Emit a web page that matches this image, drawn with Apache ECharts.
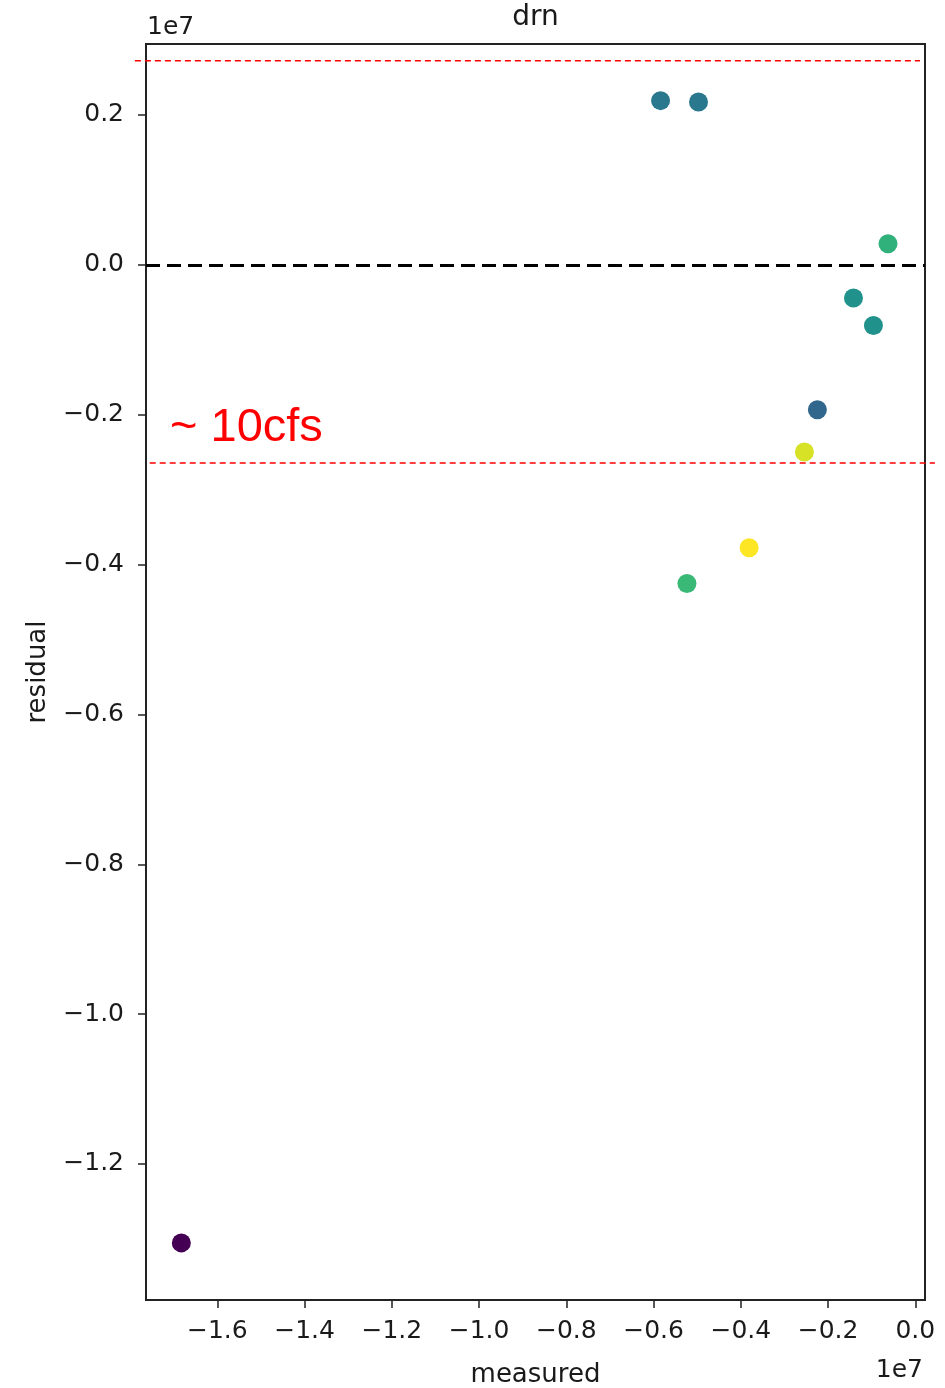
<!DOCTYPE html>
<html>
<head>
<meta charset="utf-8">
<title>drn</title>
<script src="https://cdn.jsdelivr.net/npm/echarts@6/dist/echarts.min.js"></script>
<style>
  html, body { margin: 0; padding: 0; background: #ffffff; }
  #chart { width: 945px; height: 1388px; }
</style>
</head>
<body>
<div id="chart"></div>
<script>
// Drain (drn) residuals against measured flux, in units of 1e7.
const measured = [-0.584e7, -0.497e7, -0.0626e7, -0.1418e7, -0.0960e7, -0.2245e7, -0.2542e7, -0.3809e7, -0.5235e7, -1.6825e7];
const residual = [0.2191e7, 0.2173e7, 0.0280e7, -0.0444e7, -0.0809e7, -0.1933e7, -0.2497e7, -0.3777e7, -0.4253e7, -1.3053e7];
// Colour value of each point on the viridis scale (0..1)
const colorValue = [0.40, 0.40, 0.64, 0.50, 0.50, 0.33, 0.94, 1.00, 0.67, 0.00];

// Tick positions and their labels (multiples of 1e7)
const xTickValues = [-1.6, -1.4, -1.2, -1.0, -0.8, -0.6, -0.4, -0.2, 0.0];
const yTickValues = [-1.2, -1.0, -0.8, -0.6, -0.4, -0.2, 0.0, 0.2];
// Reference band of roughly ±10 cfs
const bandLevels = [0.2724e7, -0.2644e7];
const bandLabel = '~ 10cfs';

const SCALE = 1e7;
const viridis = ['#440154', '#482475', '#414487', '#355f8d', '#2a788e', '#21918c',
                 '#22a884', '#44bf70', '#7ad151', '#bddf26', '#fde725'];

const GRID = { left: 146, top: 44, right: 20, bottom: 88 };
const AXIS_COLOR = '#222222';
const TEXT_COLOR = '#1a1a1a';
const MONO = 'DejaVu Sans';

function fmt(v) {
  return (v / SCALE).toFixed(1).replace('-', '\u2212');
}

const points = measured.map((m, i) => [m, residual[i], colorValue[i]]);

const chart = echarts.init(document.getElementById('chart'), null, { renderer: 'canvas' });

chart.setOption({
  animation: false,
  backgroundColor: '#ffffff',
  textStyle: { fontFamily: MONO },
  grid: {
    left: GRID.left, top: GRID.top, right: GRID.right, bottom: GRID.bottom,
    containLabel: false,
    outerBoundsMode: 'none',
    show: true, borderColor: AXIS_COLOR, borderWidth: 2, backgroundColor: 'transparent'
  },
  xAxis: {
    type: 'value',
    min: -1.7635e7,
    max: 0.0222e7,
    name: 'measured',
    nameLocation: 'middle',
    nameGap: 62,
    nameTextStyle: { fontSize: 26, color: TEXT_COLOR, fontFamily: MONO },
    axisLine: { show: true, onZero: false, lineStyle: { color: AXIS_COLOR, width: 2 } },
    axisTick: {
      show: true, inside: false, length: 8,
      lineStyle: { color: AXIS_COLOR, width: 1.5 },
      customValues: xTickValues.map(v => v * SCALE)
    },
    axisLabel: {
      show: true, fontSize: 25, color: TEXT_COLOR, margin: 19, fontFamily: MONO,
      customValues: xTickValues.map(v => v * SCALE),
      formatter: fmt
    },
    splitLine: { show: false }
  },
  yAxis: {
    type: 'value',
    min: -1.3815e7,
    max: 0.2947e7,
    name: 'residual',
    nameLocation: 'middle',
    nameGap: 95,
    nameRotate: 90,
    nameTextStyle: { fontSize: 26, color: TEXT_COLOR, fontFamily: MONO },
    axisLine: { show: true, onZero: false, lineStyle: { color: AXIS_COLOR, width: 2 } },
    axisTick: {
      show: true, inside: false, length: 8,
      lineStyle: { color: AXIS_COLOR, width: 1.5 },
      customValues: yTickValues.map(v => v * SCALE)
    },
    axisLabel: {
      show: true, fontSize: 25, color: TEXT_COLOR, margin: 22, fontFamily: MONO,
      customValues: yTickValues.map(v => v * SCALE),
      formatter: fmt
    },
    splitLine: { show: false }
  },
  visualMap: {
    show: false,
    type: 'continuous',
    dimension: 2,
    min: 0,
    max: 1,
    inRange: { color: viridis }
  },
  series: [{
    type: 'scatter',
    data: points,
    symbol: 'circle',
    symbolSize: 19,
    itemStyle: { opacity: 1 },
    emphasis: { disabled: true },
    silent: true,
    z: 3,
    markLine: {
      silent: true,
      symbol: 'none',
      label: { show: false },
      emphasis: { disabled: true },
      lineStyle: { color: '#000000', type: [14, 7], width: 3 },
      data: [{ yAxis: 0 }],
      z: 2
    }
  }]
});

// Annotation: the ±10 cfs band lines and label, placed through the axes' scales
function band() {
  const upperA = chart.convertToPixel({ gridIndex: 0 }, [-1.789e7, bandLevels[0]]);
  const upperB = chart.convertToPixel({ gridIndex: 0 }, [0.0108e7, bandLevels[0]]);
  const lowerA = chart.convertToPixel({ gridIndex: 0 }, [-1.755e7, bandLevels[1]]);
  const lowerB = chart.convertToPixel({ gridIndex: 0 }, [0.045e7, bandLevels[1]]);
  const red = { stroke: '#ff0000', lineWidth: 1.5, lineDash: [6, 4] };
  return [
    { type: 'line', silent: true, z: 10,
      shape: { x1: upperA[0], y1: upperA[1], x2: upperB[0], y2: upperB[1] }, style: red },
    { type: 'line', silent: true, z: 10,
      shape: { x1: lowerA[0], y1: lowerA[1], x2: lowerB[0], y2: lowerB[1] }, style: red },
    { type: 'text', silent: true, z: 10,
      x: GRID.left + 24, y: lowerA[1] - 58,
      style: {
        text: bandLabel, fill: '#ff0000',
        font: '47px "Liberation Sans", Arial, sans-serif',
        align: 'left', verticalAlign: 'top'
      } },
    // Chart title
    { type: 'text', silent: true, z: 10,
      x: (GRID.left + (945 - GRID.right)) / 2, y: 4,
      style: {
        text: 'drn', fill: TEXT_COLOR,
        font: '28px "DejaVu Sans"',
        align: 'center', verticalAlign: 'top'
      } },
    // Scale factors of the axes
    { type: 'text', silent: true, z: 10,
      x: GRID.left + 1, y: 15,
      style: {
        text: '1e7', fill: TEXT_COLOR,
        font: '25px "DejaVu Sans"',
        align: 'left', verticalAlign: 'top'
      } },
    { type: 'text', silent: true, z: 10,
      x: 945 - GRID.right - 2, y: 1358,
      style: {
        text: '1e7', fill: TEXT_COLOR,
        font: '25px "DejaVu Sans"',
        align: 'right', verticalAlign: 'top'
      } }
  ];
}

chart.setOption({ graphic: { elements: band() } });
</script>
</body>
</html>
